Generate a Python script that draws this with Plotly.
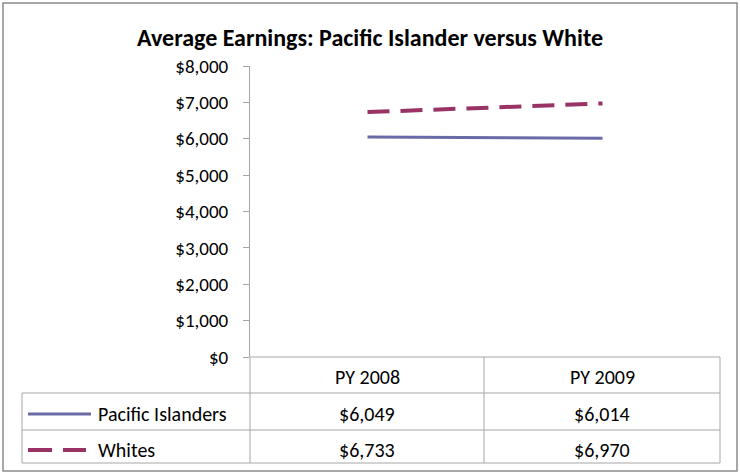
import plotly.graph_objects as go

W, H = 740, 473

categories = ["PY 2008", "PY 2009"]
series_names = ["Pacific Islanders", "Whites"]
pacific = [6049, 6014]
whites = [6733, 6970]
y_tick_vals = [0, 1000, 2000, 3000, 4000, 5000, 6000, 7000, 8000]
y_tick_text = ["$0", "$1,000", "$2,000", "$3,000", "$4,000", "$5,000", "$6,000", "$7,000", "$8,000"]

FONT = "Carlito, Lato, 'Open Sans', sans-serif"
C_PI = "#6A6AA6"
C_WH = "#993366"
GRID = "#A6A6A6"

def px(x):
    return x / W

def py(y):
    return 1 - y / H

# plot area in pixels
L, R, T, B = 250, 720, 66, 357

fig = go.Figure()
fig.add_trace(go.Scatter(x=categories, y=pacific, mode="lines", name=series_names[0],
                         line=dict(color=C_PI, width=3), showlegend=False))
fig.add_trace(go.Scatter(x=categories, y=whites, mode="lines", name=series_names[1],
                         line=dict(color=C_WH, width=4, dash="22px,11px"), showlegend=False))

shapes = []
def line(x0, y0, x1, y1, color=GRID, width=1, dash=None):
    d = dict(type="line", xref="paper", yref="paper", x0=px(x0), y0=py(y0), x1=px(x1), y1=py(y1),
             line=dict(color=color, width=width))
    if dash:
        d["line"]["dash"] = dash
    shapes.append(d)

# outer border
shapes.append(dict(type="rect", xref="paper", yref="paper", x0=px(3), y0=py(471), x1=px(737), y1=py(3),
                   line=dict(color="#8C8C8C", width=1.5)))
# table
TL = 22
TB1, TB2, TB3, TB4 = 357, 393, 430, 463
line(L, TB1, R, TB1)
for yy in (TB2, TB3, TB4):
    line(TL, yy, R, yy)
line(TL, TB2, TL, TB4)
line(L, TB1, L, TB4)
line(484, TB1, 484, TB4)
line(R, TB1, R, TB4)
# legend keys
line(28, 414, 91, 414, color=C_PI, width=3)
line(28, 450, 86, 450, color=C_WH, width=4, dash="24px,11px")

TFS = 20
annotations = []
col_centers = [367, 602]
for i, c in enumerate(categories):
    annotations.append(dict(x=px(col_centers[i]), y=py(377), xref="paper", yref="paper", text=c,
                            xanchor="center", yanchor="middle",
                            showarrow=False, font=dict(family=FONT, size=TFS, color="#000")))
rows = [(pacific, 414), (whites, 450)]
for (vals, yy), name in zip(rows, series_names):
    annotations.append(dict(x=px(96), y=py(yy), xref="paper", yref="paper", text=name,
                            xanchor="left", yanchor="middle",
                            showarrow=False, font=dict(family=FONT, size=TFS, color="#000")))
    for i, v in enumerate(vals):
        annotations.append(dict(x=px(col_centers[i]), y=py(yy), xref="paper", yref="paper",
                                text="${:,}".format(v), showarrow=False,
                                xanchor="center", yanchor="middle",
                                font=dict(family=FONT, size=TFS, color="#000")))

fig.update_layout(
    width=W, height=H, autosize=False,
    margin=dict(l=0, r=0, t=0, b=0, pad=0, autoexpand=False),
    showlegend=False,
    paper_bgcolor="white", plot_bgcolor="white",
    title=dict(text="<b>Average Earnings: Pacific Islander versus White</b>", x=px(370), y=py(38),
               xref="paper", yref="paper", automargin=False,
               xanchor="center", yanchor="middle", font=dict(family=FONT, size=24, color="#000")),
    xaxis=dict(domain=[px(L), px(R)], range=[-0.5, 1.5], showticklabels=False, showgrid=False,
               zeroline=False, showline=False, ticks="", automargin=False),
    yaxis=dict(domain=[py(B), py(T)], range=[0, 8000], tickvals=y_tick_vals, ticktext=y_tick_text,
               showgrid=False, zeroline=False, showline=True, linecolor=GRID, linewidth=1,
               ticks="outside", ticklen=6, tickcolor=GRID, ticklabelstandoff=11, automargin=False,
               tickfont=dict(family=FONT, size=19, color="#000")),
    shapes=shapes, annotations=annotations,
)

fig.write_html(
    "out.html",
    config={"displayModeBar": False, "staticPlot": True},
    post_script=(
        "document.documentElement.style.margin='0';"
        "document.body.style.margin='0';document.body.style.overflow='hidden';"
        "var d=document.getElementById('{plot_id}');"
        "d.style.position='fixed';d.style.left='0px';d.style.top='0px';"
    ),
)
